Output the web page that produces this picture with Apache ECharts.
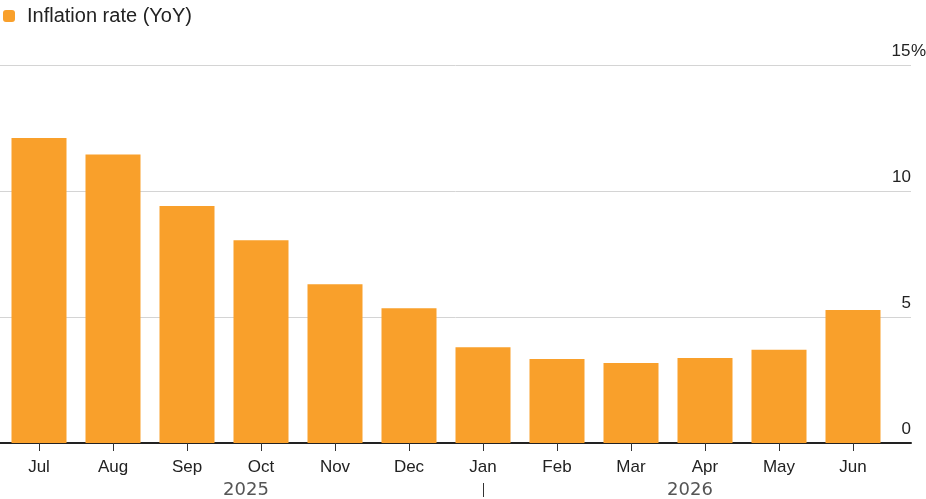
<!DOCTYPE html>
<html>
<head>
<meta charset="utf-8">
<script src="https://cdn.jsdelivr.net/npm/echarts@6/dist/echarts.min.js"></script>
<style>
  html, body { margin: 0; padding: 0; background: #fff; }
  #chart { width: 926px; height: 499px; }
</style>
</head>
<body>
<div id="chart"></div>
<script>
var months = ['Jul', 'Aug', 'Sep', 'Oct', 'Nov', 'Dec', 'Jan', 'Feb', 'Mar', 'Apr', 'May', 'Jun']
var years = ['2025', '2026']
var inflation = [12.1, 11.45, 9.4, 8.05, 6.3, 5.35, 3.8, 3.33, 3.17, 3.37, 3.7, 5.28]
var seriesName = 'Inflation rate (YoY)'

var font = 'Liberation Sans, Arial, sans-serif'
var dom = document.getElementById('chart')
var myChart = echarts.init(dom)

var option = {
    animation: false,
    legend: {
        left: 3,
        top: 6,
        padding: 0,
        icon: 'roundRect',
        itemWidth: 12,
        itemHeight: 12,
        textStyle: { fontFamily: font, fontSize: 20, color: '#222', padding: [0, 0, 0, 7] },
        data: [seriesName]
    },
    grid: [
        { left: 2, right: 36, top: 65, bottom: 56, outerBoundsMode: 'none' },
        { left: 0, right: 15, top: 65, bottom: 56, outerBoundsMode: 'none' }
    ],
    xAxis: [
        {
            type: 'category', gridIndex: 0, data: months,
            axisLine: { show: true, lineStyle: { color: 'rgba(0,0,0,0)' } },
            axisTick: { show: true, alignWithLabel: true, length: 8, lineStyle: { color: '#333' } },
            axisLabel: { margin: 16, fontFamily: font, fontSize: 17, color: '#222' }
        },
        {
            type: 'category', gridIndex: 0, data: years, position: 'bottom', offset: 23,
            axisLine: { show: false }, axisTick: { show: false },
            axisLabel: { margin: 15, fontFamily: 'DejaVu Sans, sans-serif', fontSize: 18, color: '#555', padding: [0, 0, 0, 44] }
        },
        {
            type: 'category', gridIndex: 0, data: months, position: 'bottom', offset: 40,
            axisLine: { show: true, lineStyle: { color: 'rgba(0,0,0,0)' } },
            axisTick: {
                show: true, alignWithLabel: true, length: 14,
                interval: function (i) { return i === 6 },
                lineStyle: { color: '#333' }
            },
            axisLabel: { show: false }
        },
        {
            type: 'value', gridIndex: 1, min: 0, max: 1,
            axisLine: { show: true, lineStyle: { color: '#222', width: 2 } },
            axisTick: { show: false }, axisLabel: { show: false }, splitLine: { show: false }
        }
    ],
    yAxis: [
        {
            type: 'value', gridIndex: 0, min: 0, max: 15, interval: 5,
            show: false
        },
        {
            type: 'value', gridIndex: 1, min: 0, max: 15, interval: 5, position: 'right',
            axisLine: { show: false }, axisTick: { show: false },
            splitLine: { lineStyle: { color: '#d4d4d4', width: 1 } },
            axisLabel: {
                inside: true, margin: 20, align: 'left',
                verticalAlign: 'bottom',
                padding: [0, 0, 5, 0],
                fontFamily: font, fontSize: 17, color: '#222',
                formatter: function (v) { return '{n|' + v + '}' + (v === 15 ? '%' : '') },
                rich: { n: { width: 20, align: 'right', fontFamily: font, fontSize: 17, color: '#222' } }
            }
        }
    ],
    series: [
        {
            name: seriesName,
            type: 'bar',
            xAxisIndex: 0,
            yAxisIndex: 0,
            barWidth: 55,
            itemStyle: { color: '#F9A02B' },
            data: inflation
        }
    ]
}
myChart.setOption(option, true)
</script>
</body>
</html>
